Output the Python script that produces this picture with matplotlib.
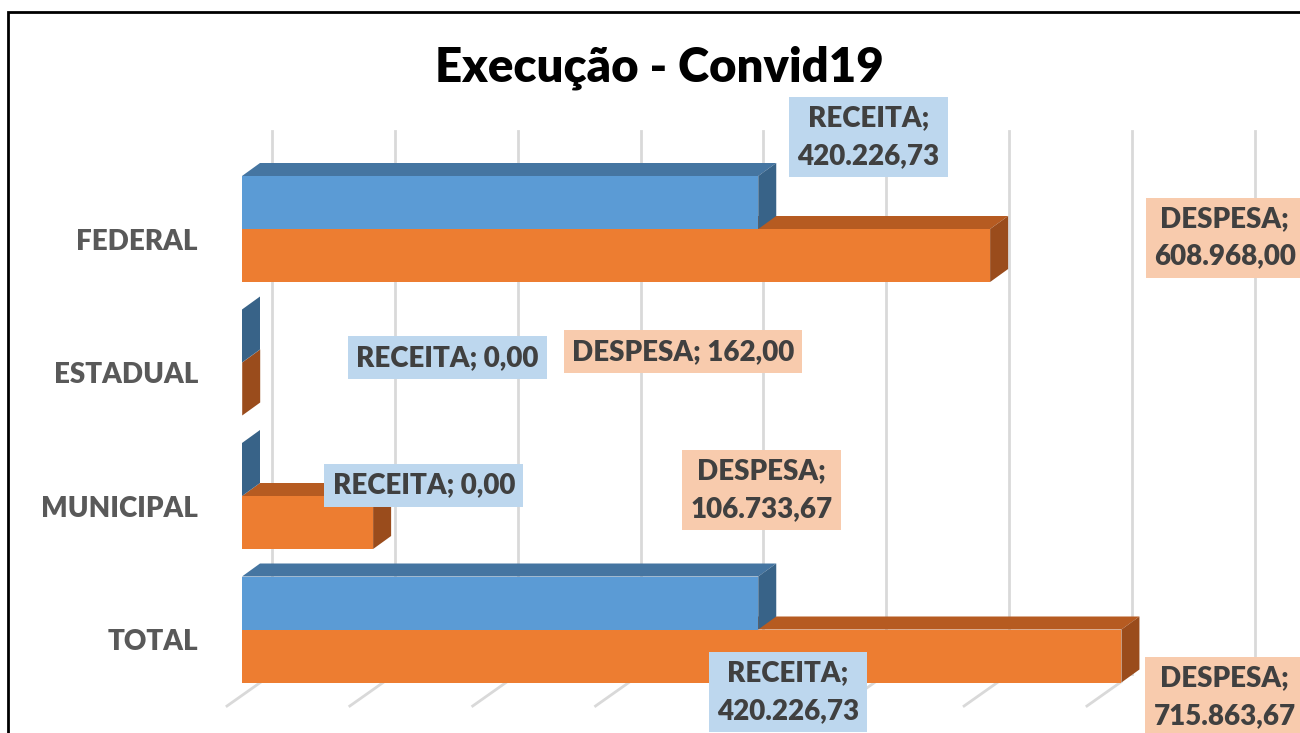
import matplotlib.pyplot as plt
from matplotlib.patches import Polygon, Rectangle

categorias = ['FEDERAL', 'ESTADUAL', 'MUNICIPAL', 'TOTAL']
receita = [420226.73, 0.00, 0.00, 420226.73]
despesa = [608968.00, 162.00, 106733.67, 715863.67]

rotulos_receita = ['RECEITA;\n420.226,73', 'RECEITA; 0,00', 'RECEITA; 0,00', 'RECEITA;\n420.226,73']
rotulos_despesa = ['DESPESA;\n608.968,00', 'DESPESA; 162,00', 'DESPESA;\n106.733,67', 'DESPESA;\n715.863,67']

# posicoes dos rotulos (valor, categoria) escolhidas a mao como no Excel
pos_receita = [(510000, -0.69), (167000, 0.965), (148000, 1.92), (444500, 3.47)]
pos_despesa = [(800000, 0.065), (359000, 0.92), (423000, 1.955), (800000, 3.505)]

plt.rcParams['font.family'] = ['Lato', 'DejaVu Sans']

W, H = 1300, 733
fig = plt.figure(figsize=(13, 7.33), dpi=100)
ax = fig.add_axes([0, 0, 1, 1])

px = 0.0012285        # pixels por unidade de valor
x0 = 242              # pixel do zero (face frontal das barras)
ystep = 133.5         # pixels entre categorias
yc0 = 229             # pixel do centro da primeira categoria
ax.set_xlim(-x0 / px, (W - x0) / px)
ax.set_ylim((H - yc0) / ystep, -yc0 / ystep)
ax.axis('off')

def dx(p):
    return p / px

def dy(p):
    return p / ystep

# parede do fundo: linhas de grade
for v in range(0, 800001, 100000):
    ax.plot([v + dx(30), v + dx(30)], [dy(131 - yc0), dy(674 - yc0)],
            color='#d9d9d9', lw=2, zorder=1)
    ax.plot([v - dx(15), v + dx(19)], [dy(706 - yc0), dy(682 - yc0)],
            color='#d9d9d9', lw=2, zorder=1)

h = dy(53)
ddx, ddy = dx(18), dy(13)

azul, azul_topo, azul_lado = '#5b9bd5', '#4575a1', '#386388'
lar, lar_topo, lar_lado = '#ed7d31', '#b65b21', '#9a4c1c'

for i in range(len(categorias)):
    r, d = receita[i], despesa[i]
    # despesa (embaixo)
    ax.add_patch(Polygon([(0, i), (d, i), (d + ddx, i - ddy), (ddx, i - ddy)],
                         closed=True, fc=lar_topo, ec='none', zorder=2))
    ax.barh(i, d, height=h, align='edge', color=lar, zorder=3)
    ax.add_patch(Polygon([(d, i), (d, i + h), (d + ddx, i + h - ddy), (d + ddx, i - ddy)],
                         closed=True, fc=lar_lado, ec='none', zorder=3))
    # receita (em cima)
    ax.barh(i - h, r, height=h, align='edge', color=azul, zorder=4)
    ax.add_patch(Polygon([(0, i - h), (r, i - h), (r + ddx, i - h - ddy), (ddx, i - h - ddy)],
                         closed=True, fc=azul_topo, ec='none', zorder=4))
    ax.add_patch(Polygon([(r, i - h), (r, i), (r + ddx, i - ddy), (r + ddx, i - h - ddy)],
                         closed=True, fc=azul_lado, ec='none', zorder=4))

    ax.text(dx(198 - x0), i + dy(13), categorias[i], ha='right', va='center',
            fontsize=20, fontweight='heavy', color='#595959')

    ax.text(pos_receita[i][0], pos_receita[i][1], rotulos_receita[i], ha='center', va='center',
            fontsize=20, fontweight='heavy', color='#404040', linespacing=1.55, zorder=6,
            bbox=dict(boxstyle='square,pad=0.3', fc='#bdd7ee', ec='none'))
    ax.text(pos_despesa[i][0], pos_despesa[i][1], rotulos_despesa[i], ha='center', va='center',
            fontsize=20, fontweight='heavy', color='#404040', linespacing=1.55, zorder=6,
            bbox=dict(boxstyle='square,pad=0.3', fc='#f8cbad', ec='none'))

fig.text(0.507, 1 - 68 / H, 'Execução - Convid19', ha='center', va='center',
         fontsize=34, fontweight='heavy', color='black')

fig.patches.append(Rectangle((8 / W, -0.05), 1.1, 1 - 12 / H + 0.05, transform=fig.transFigure,
                             fill=False, ec='black', lw=2))

fig.savefig('out.png', dpi=100)
